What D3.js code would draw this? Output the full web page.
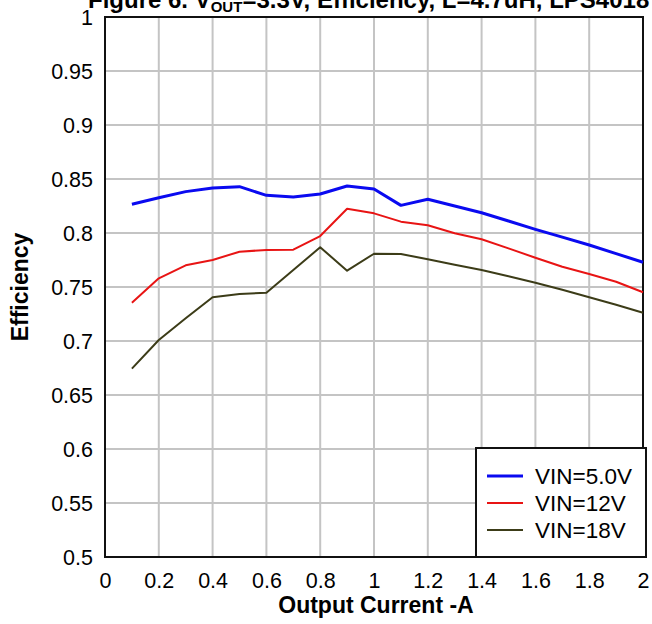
<!DOCTYPE html>
<html><head><meta charset="utf-8">
<script src="https://cdn.jsdelivr.net/npm/d3@7"></script>
<style>body{margin:0;background:#fff}svg{display:block;font-family:Arial,"Liberation Sans",sans-serif}</style>
</head><body>
<svg id="c" width="652" height="624"></svg>
<script>
const current = [0.1,0.2,0.3,0.4,0.5,0.6,0.7,0.8,0.9,1.0,1.1,1.2,1.3,1.4,1.5,1.6,1.7,1.8,1.9,2.0];
const vin5  = [0.8266,0.8327,0.8383,0.8417,0.8429,0.8349,0.8333,0.8361,0.8435,0.8407,0.8256,0.8312,0.8250,0.8188,0.8111,0.8034,0.7962,0.7889,0.7809,0.7729];
const vin12 = [0.7355,0.7580,0.7701,0.7750,0.7827,0.7843,0.7846,0.7972,0.8225,0.8182,0.8105,0.8071,0.7997,0.7942,0.7858,0.7771,0.7688,0.7620,0.7549,0.7451];
const vin18 = [0.6744,0.7009,0.7210,0.7405,0.7435,0.7447,0.7657,0.7868,0.7651,0.7808,0.7806,0.7756,0.7707,0.7657,0.7600,0.7540,0.7475,0.7405,0.7335,0.7262];
const seriesNames = ["VIN=5.0V","VIN=12V","VIN=18V"];
const seriesColors = ["#0a0af0","#e81414","#3c3c18"];
const seriesWidths = [3,2,2];
const xTicks = [0,0.2,0.4,0.6,0.8,1,1.2,1.4,1.6,1.8,2];
const yTicks = [0.5,0.55,0.6,0.65,0.7,0.75,0.8,0.85,0.9,0.95,1];

const svg = d3.select("#c");
const L=105, R=643, T=17, B=557;
const x = d3.scaleLinear().domain([0,2]).range([L,R]);
const y = d3.scaleLinear().domain([0.5,1]).range([B,T]);
const FF = "Arial,'Liberation Sans',sans-serif";

// title (cut off at top, as in the reference)
const title = svg.append("text").attr("x",88).attr("y",8).attr("font-size",24).attr("font-weight","bold").attr("fill","#000");
title.append("tspan").text("Figure 6. V");
title.append("tspan").attr("font-size",15).attr("dy",4).text("OUT");
title.append("tspan").attr("dy",-4).text("=3.3V, Efficiency, L=4.7uH, LPS4018");

// grid
svg.append("g").selectAll("line").data(xTicks).join("line")
  .attr("x1",d=>x(d)).attr("x2",d=>x(d)).attr("y1",T).attr("y2",B)
  .attr("stroke","#c4c4c4").attr("stroke-width",2);
svg.append("g").selectAll("line").data(yTicks).join("line")
  .attr("x1",L).attr("x2",R).attr("y1",d=>y(d)).attr("y2",d=>y(d))
  .attr("stroke","#c4c4c4").attr("stroke-width",2);

// axes labels via d3 axes
const ax = svg.append("g").attr("transform",`translate(0,${B+28})`)
  .call(d3.axisBottom(x).tickValues(xTicks).tickSize(0).tickFormat(d3.format("")));
ax.select(".domain").remove();
ax.selectAll("text").attr("font-size",21.5).attr("font-family",FF).attr("fill","#000").attr("dy","0");
const ay = svg.append("g").attr("transform",`translate(${L-12},0)`)
  .call(d3.axisLeft(y).tickValues(yTicks).tickSize(0).tickFormat(d3.format("")));
ay.select(".domain").remove();
ay.selectAll("text").attr("font-size",21.5).attr("font-family",FF).attr("fill","#000").attr("x",0).attr("dy","0.36em");

// frame
svg.append("rect").attr("x",L).attr("y",T).attr("width",R-L).attr("height",B-T)
  .attr("fill","none").attr("stroke","#111").attr("stroke-width",2);

// lines
const data = [vin5,vin12,vin18];
const line = d3.line().x((d,i)=>x(current[i])).y(d=>y(d));
data.forEach((s,k)=>{
  svg.append("path").datum(s).attr("d",line).attr("fill","none")
    .attr("stroke",seriesColors[k]).attr("stroke-width",seriesWidths[k]).attr("stroke-linejoin","round");
});

// legend
const lg = svg.append("g");
lg.append("rect").attr("x",476).attr("y",448).attr("width",170).attr("height",109)
  .attr("fill","#fff").attr("stroke","#111").attr("stroke-width",2);
seriesNames.forEach((n,k)=>{
  const yy = 476 + k*27;
  lg.append("line").attr("x1",487).attr("x2",523).attr("y1",yy).attr("y2",yy)
    .attr("stroke",seriesColors[k]).attr("stroke-width",seriesWidths[k]);
  lg.append("text").attr("x",535).attr("y",yy).attr("dy","0.36em").attr("font-size",22.5).attr("fill","#000").text(n);
});

// axis titles
svg.append("text").attr("x",376).attr("y",613).attr("text-anchor","middle")
  .attr("font-size",23).attr("font-weight","bold").text("Output Current -A");
svg.append("text").attr("transform","translate(28,287) rotate(-90)").attr("text-anchor","middle")
  .attr("font-size",23).attr("font-weight","bold").text("Efficiency");
</script>
</body></html>
